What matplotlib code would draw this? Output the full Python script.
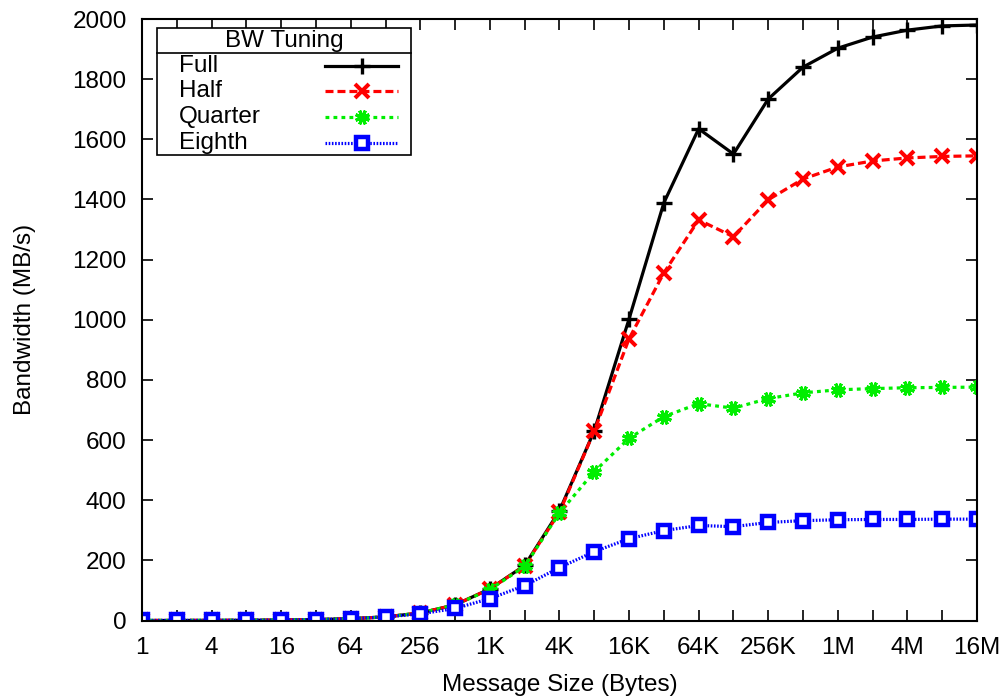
import matplotlib
matplotlib.use('Agg')
import matplotlib.pyplot as plt
from matplotlib.patches import Rectangle

plt.rcParams['font.family'] = ['Liberation Sans', 'DejaVu Sans']

# message sizes: 2^0 .. 2^24 bytes
sizes = [2 ** i for i in range(25)]
tick_labels = ['1', '4', '16', '64', '256', '1K', '4K', '16K', '64K',
               '256K', '1M', '4M', '16M']

full = [0.1, 0.2, 0.4, 0.8, 1.5, 3, 6, 12, 25, 52, 105, 183, 365, 631,
        1003, 1389, 1635, 1551, 1734, 1840, 1903, 1940, 1963, 1977, 1980]
half = [0.1, 0.2, 0.4, 0.8, 1.5, 3, 6, 12, 25, 52, 105, 182, 360, 630,
        937, 1156, 1332, 1276, 1399, 1468, 1508, 1528, 1538, 1543, 1545]
quarter = [0.1, 0.2, 0.4, 0.8, 1.5, 3, 6, 12, 25, 52, 103, 180, 358, 495,
           606, 678, 721, 706, 738, 757, 767, 771, 774, 775, 776]
eighth = [0.1, 0.2, 0.4, 0.8, 1.5, 3, 6, 12, 22, 40, 73, 116, 176, 229,
          272, 299, 316, 312, 326, 332, 335, 336, 336, 337, 337]

series = [
    ('Full', full, dict(color='black', linestyle='-', marker='+',
                        markersize=11, markeredgewidth=2.4)),
    ('Half', half, dict(color='#ff0000', linestyle=(0, (2.5, 1.25)), marker='x',
                        markersize=9.5, markeredgewidth=2.9)),
    ('Quarter', quarter, dict(color='#00ee00', linestyle=(0, (1.2, 1.3)),
                              marker=(8, 2, 22.5), markersize=10.5,
                              markeredgewidth=2.2)),
    ('Eighth', eighth, dict(color='#0000ff', linestyle=(0, (0.5, 0.5)), marker='s',
                            markersize=8, markeredgewidth=3.2,
                            markerfacecolor='white')),
]

FS = 17.5
fig = plt.figure(figsize=(10.04, 7.0), dpi=100)
ax = fig.add_axes([142 / 1004, (700 - 620.5) / 700, 835 / 1004, 601.5 / 700])

for name, vals, st in series:
    ax.plot(sizes, vals, linewidth=2.3, label=name, **st)

ax.set_xscale('log', base=2)
ax.set_xlim(1, 2 ** 24)
ax.set_ylim(0, 2000)
ax.set_xticks(sizes)
ax.set_xticklabels([tick_labels[i // 2] if i % 2 == 0 else '' for i in range(25)])
ax.xaxis.set_minor_locator(matplotlib.ticker.NullLocator())
ax.set_yticks(range(0, 2001, 200))

ax.tick_params(axis='both', which='major', direction='in', length=8, width=1.2,
               top=True, right=True, labelsize=FS, color='black')
ax.tick_params(axis='y', pad=11)
ax.tick_params(axis='x', pad=12)
for sp in ax.spines.values():
    sp.set_linewidth(1.5)

ax.set_xlabel('Message Size (Bytes)', fontsize=FS, labelpad=11)
ax.set_ylabel('Bandwidth (MB/s)', fontsize=FS, labelpad=26)

# gnuplot-style key: boxed, titled, labels left and samples right
box = Rectangle((0.018, 0.774), 0.304, 0.211, transform=ax.transAxes,
                facecolor='white', edgecolor='black', linewidth=1.2, zorder=5)
ax.add_patch(box)
ax.plot([0.018, 0.322], [0.9435, 0.9435], transform=ax.transAxes, color='black',
        linewidth=1.2, zorder=6, clip_on=False)
ax.text(0.170, 0.963, 'BW Tuning', transform=ax.transAxes, fontsize=FS,
        ha='center', va='center', zorder=6)
row_y = [0.9222, 0.8803, 0.8366, 0.7943]
for (name, vals, st), y in zip(series, row_y):
    ax.text(0.0443, y, name, transform=ax.transAxes, fontsize=FS,
            ha='left', va='center', zorder=6)
    line_st = {k: v for k, v in st.items() if not k.startswith('marker')}
    ax.plot([0.219, 0.3066], [y, y], transform=ax.transAxes, linewidth=2.3,
            zorder=6, clip_on=False, **line_st)
    mk_st = {k: v for k, v in st.items() if k != 'linestyle'}
    ax.plot([0.2635], [y], transform=ax.transAxes, linestyle='none',
            zorder=7, clip_on=False, **mk_st)

fig.savefig('out.png', dpi=100)
